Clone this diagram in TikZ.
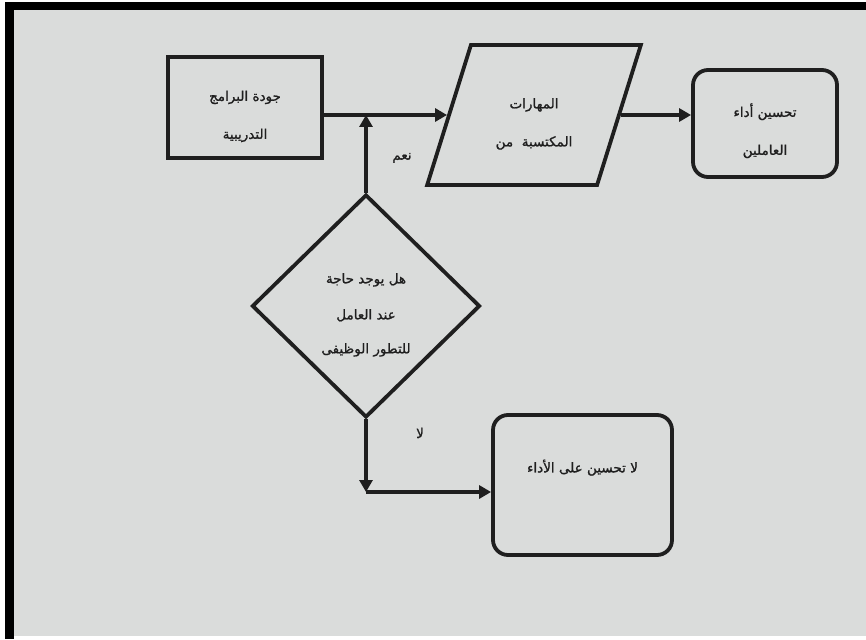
\documentclass[tikz,border=0pt]{standalone}
\usepackage{fontspec}
\newfontfamily\arabicfont[Script=Arabic,FakeBold=1.2]{DejaVu Sans}
\TeXXeTstate=1
\usepackage{xcolor}
\definecolor{scrGray}{RGB}{218,220,219}
\definecolor{inkGray}{gray}{0.12}
\usetikzlibrary{shapes.geometric}
\usetikzlibrary{arrows.meta}
\newcommand{\artxt}[1]{\beginR #1\endR}
\newcommand{\dropline}{\mbox{}\\[-10pt]}

\begin{document}
\begin{tikzpicture}[x=1pt, y=-1pt,
    every node/.style={font=\arabicfont\fontsize{13.5}{38}\selectfont, align=center, text=inkGray},
    box/.style={draw=inkGray, line width=3.8pt, inner sep=0pt},
    roundbox/.style={box, rounded corners=15pt},
    arr/.style={draw=inkGray, line width=3.8pt, -{Triangle[length=12pt, width=13pt]}}]
        % screen and frame
        \useasboundingbox [fill=white] (0,0) rectangle (866,639);
        \draw [fill=scrGray, draw=none] (14,10) rectangle (866,636);
        \draw [fill=black, draw=none] (5,2) rectangle (866,10);
        \draw [fill=black, draw=none] (5,2) rectangle (14,639);
        % shapes
        \node [box, minimum width=154, minimum height=101] (trn) at (245,107.5)
            {\dropline\artxt{جودة البرامج}\\\artxt{التدريبية}};
        \node [box, trapezium, trapezium left angle=69, trapezium right angle=111,
            trapezium stretches=true, minimum width=214, minimum height=140] (mhr) at (534,115)
            {\dropline\artxt{المهارات}\\\artxt{المكتسبة\ \ من}};
        \node [roundbox, minimum width=144, minimum height=107] (fin) at (765,123.5)
            {\dropline\artxt{تحسين أداء}\\\artxt{العاملين}};
        \node [box, diamond, minimum width=228, minimum height=223] (qst) at (366,306)
            {\dropline\artxt{هل يوجد حاجة}\\[-2pt]\artxt{عند العامل}\\[-4pt]\artxt{للتطور الوظيفى}};
        \node [roundbox, minimum width=179, minimum height=140] (nop) at (582.5,485)
            {\artxt{لا تحسين على الأداء}\\ \mbox{}};
        \node (yes) at (402,158) {\artxt{نعم}};
        \node (no) at (420,433) {\artxt{لا}};
        \coordinate (knee) at (366,492);
        % connectors
        \draw [arr] (trn.east |- mhr.west) -- (mhr.west);
        \draw [arr] (qst.north) -- (qst.north |- mhr.west);
        \draw [arr] (mhr.east) -- (mhr.east -| fin.west);
        \draw [arr] (qst.south) -- (knee);
        \draw [arr] (knee) -- (knee -| nop.west);
      \end{tikzpicture}
\end{document}
